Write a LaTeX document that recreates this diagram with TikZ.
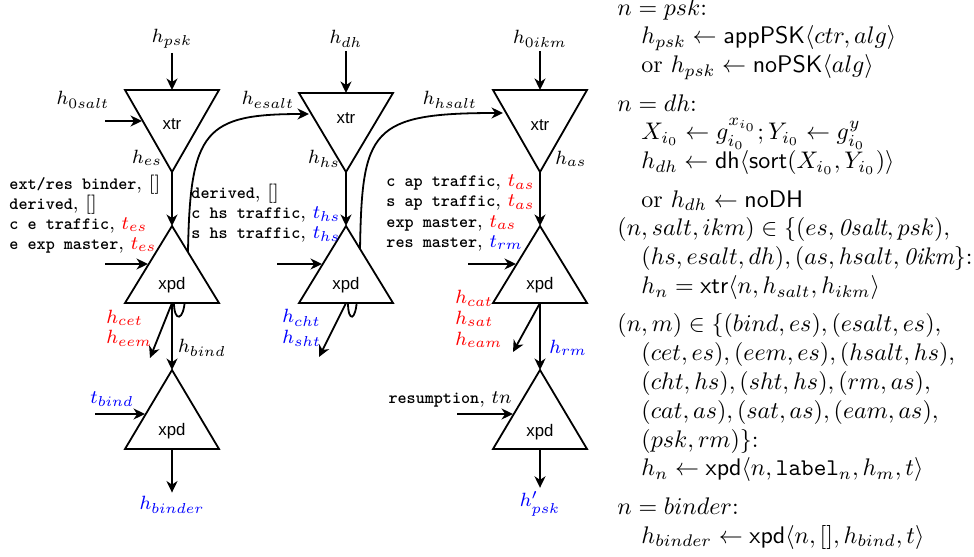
\documentclass[tikz,border=0pt]{standalone}
\usepackage{amsmath}
\usepackage{fontspec}
\usepackage{xcolor}
\usepackage{tikz}
\usetikzlibrary{arrows.meta}
\newfontfamily\gatefont{Liberation Sans}
\newcommand{\ttlbl}[1]{{\fontsize{7.2}{8.3}\selectfont\ttfamily\bfseries #1}}
\colorlet{KSred}{red}
\colorlet{KSblue}{blue}

\begin{document}
\begin{tikzpicture}[x=0.4167pt, y=-0.4167pt,
    flow/.style={-{Stealth[length=4.8pt,width=4.6pt,inset=1.5pt]}, line width=0.75pt},
    gate/.style={draw, line width=0.75pt, fill=white, line join=miter},
    gatelbl/.style={font=\gatefont\fontsize{7}{8}\selectfont, inner sep=0pt},
    lbl/.style={font=\footnotesize, inner sep=1.5pt},
    stack/.style={lbl, align=left, anchor=west, inner sep=0pt, font=\fontsize{8}{8.6}\selectfont},
    msgs/.style={align=left, anchor=west, inner sep=0pt, font=\fontsize{8}{8.4}\selectfont}]
  \useasboundingbox (0,0) rectangle (974,556);

  % salt chains first, the gates cover their inner part
  \coordinate (esLoop) at (174,303);
  \coordinate (esaltIn) at (309,114);
  \draw[flow] (esLoop) .. controls (174,322) and (184,322) .. (185,298) -- (188,252)
      .. controls (190,130) and (205,114) .. (esaltIn);
  \coordinate (hsLoop) at (348,303);
  \coordinate (hsaltIn) at (503,113);
  \draw[flow] (hsLoop) .. controls (348,322) and (356,322) .. (357,298) -- (360,250)
      .. controls (362,130) and (370,113) .. (hsaltIn);

  % early secret
  \draw[gate] (125,90) -- (219,90) -- (172,172) coordinate (esTip) -- cycle;
  \draw[gate] (172,226) coordinate (esXpd) -- (219,303) -- (125,303) -- cycle;
  \draw[gate] (172,370) coordinate (bindXpd) -- (219,449) -- (125,449) -- cycle;
  \node[gatelbl] (xtrES) at (172,124) {xtr};
  \node[gatelbl] (xpdES) at (172,285) {xpd};
  \node[gatelbl] (xpdBind) at (172,431) {xpd};
  \coordinate (esTop) at (172,90);
  \coordinate (esBase) at (172,303);
  \coordinate (bindBase) at (172,449);

  % handshake secret
  \draw[gate] (299,93) -- (393,93) -- (346,172) coordinate (hsTip) -- cycle;
  \draw[gate] (346,226) coordinate (hsXpd) -- (393,303) -- (299,303) -- cycle;
  \node[gatelbl] (xtrHS) at (346,118) {xtr};
  \node[gatelbl] (xpdHS) at (346,285) {xpd};
  \coordinate (hsTop) at (346,93);
  \coordinate (hsBase) at (346,303);

  % application secret
  \draw[gate] (493,90) -- (587,90) -- (540,172) coordinate (asTip) -- cycle;
  \draw[gate] (540,226) coordinate (asXpd) -- (587,303) -- (493,303) -- cycle;
  \draw[gate] (540,370) coordinate (rmXpd) -- (587,449) -- (493,449) -- cycle;
  \node[gatelbl] (xtrAS) at (540,125) {xtr};
  \node[gatelbl] (xpdAS) at (540,285) {xpd};
  \node[gatelbl] (xpdRM) at (540,432) {xpd};
  \coordinate (asTop) at (540,90);
  \coordinate (asBase) at (540,303);
  \coordinate (rmBase) at (540,449);

  % key inputs
  \node[lbl] (hpsk) at (172,39) {$h_{psk}$};
  \node[lbl] (hdh) at (346,39) {$h_{dh}$};
  \node[lbl] (h0ikm) at (540,39) {$h_{0ikm}$};
  \draw[flow] (hpsk) -- (esTop);
  \draw[flow] (hdh) -- (hsTop);
  \draw[flow] (h0ikm) -- (asTop);

  % salts
  \node[lbl] (h0salt) at (83,100) {$h_{0salt}$};
  \node[lbl] (hesalt) at (268,100) {$h_{esalt}$};
  \node[lbl] (hhsalt) at (450,100) {$h_{hsalt}$};
  \coordinate (salt0) at (105,121);
  \coordinate (esSalt) at (142,121);
  \draw[flow] (salt0) -- (esSalt);

  % extracted secrets
  \node[lbl] (hes) at (147,158) {$h_{es}$};
  \node[lbl] (hhs) at (324,159) {$h_{hs}$};
  \node[lbl] (has) at (571,159) {$h_{as}$};
  \draw[flow] (esTip) -- (esXpd);
  \draw[flow] (hsTip) -- (hsXpd);
  \draw[flow] (asTip) -- (asXpd);

  % labels and transcripts
  \node[msgs] (esMsgs) at (9,214) {\ttlbl{ext/res binder}, $[]$\\
    \ttlbl{derived}, $[]$\\
    \ttlbl{c e traffic}, \textcolor{KSred}{$t_{es}$}\\
    \ttlbl{e exp master}, \textcolor{KSred}{$t_{es}$}};
  \node[msgs] (hsMsgs) at (191,213) {\ttlbl{derived}, $[]$\\
    \ttlbl{c hs traffic}, \textcolor{KSblue}{$t_{hs}$}\\
    \ttlbl{s hs traffic}, \textcolor{KSblue}{$t_{hs}$}};
  \node[msgs] (asMsgs) at (386,213) {\ttlbl{c ap traffic}, \textcolor{KSred}{$t_{as}$}\\
    \ttlbl{s ap traffic}, \textcolor{KSred}{$t_{as}$}\\
    \ttlbl{exp master}, \textcolor{KSred}{$t_{as}$}\\
    \ttlbl{res master}, \textcolor{KSblue}{$t_{rm}$}};
  \coordinate (esMsgIn) at (105,264);
  \coordinate (hsMsgIn) at (277,264);
  \coordinate (asMsgIn) at (468,264);
  \draw[flow] (esMsgIn) -- (148,264);
  \draw[flow] (hsMsgIn) -- (322,264);
  \draw[flow] (asMsgIn) -- (516,264);

  % derived secrets
  \node[stack, text=KSred] (esDer) at (106,328) {$h_{cet}$\\$h_{eem}$};
  \node[stack, text=KSblue] (hsDer) at (282,328) {$h_{cht}$\\$h_{sht}$};
  \node[stack, text=KSred] (asDer) at (455,319) {$h_{cat}$\\$h_{sat}$\\$h_{eam}$};
  \coordinate (esDerEnd) at (150,358);
  \coordinate (hsDerEnd) at (319,357);
  \coordinate (asDerEnd) at (513,352);
  \draw[flow] (esBase) -- (esDerEnd);
  \draw[flow] (hsBase) -- (hsDerEnd);
  \draw[flow] (asBase) -- (asDerEnd);

  % binder and resumption
  \node[lbl] (hbind) at (202,348) {$h_{bind}$};
  \node[lbl, text=KSblue] (hrm) at (568,348) {$h_{rm}$};
  \draw[flow] (esBase) -- (bindXpd);
  \draw[flow] (asBase) -- (rmXpd);
  \node[lbl, text=KSblue] (tbind) at (112,399) {$t_{bind}$};
  \node[lbl] (resum) at (450,399) {\ttlbl{resumption}, $tn$};
  \coordinate (bindIn) at (95,414);
  \coordinate (resumIn) at (457,414);
  \draw[flow] (bindIn) -- (145,414);
  \draw[flow] (resumIn) -- (513,414);
  \node[lbl, text=KSblue] (hbinder) at (172,505) {$h_{binder}$};
  \node[lbl, text=KSblue] (hpskNext) at (540,504) {$h'_{psk}$};
  \draw[flow] (bindBase) -- (hbinder);
  \draw[flow] (rmBase) -- (hpskNext);

  % definitions
  \node[anchor=north west, inner sep=0pt, align=left] (rules) at (617,-2) {%
    $n = psk$:\\
    \hspace*{1em}$h_{psk} \leftarrow \mathsf{appPSK}\langle ctr, alg\rangle$\\
    \hspace*{1em}or $h_{psk} \leftarrow \mathsf{noPSK}\langle alg\rangle$\\[4pt]
    $n = dh$:\\
    \hspace*{1em}$X_{i_0} \leftarrow g_{i_0}^{x_{i_0}}; Y_{i_0} \leftarrow g_{i_0}^{y}$\\
    \hspace*{1em}$h_{dh} \leftarrow \mathsf{dh}\langle\mathsf{sort}(X_{i_0}, Y_{i_0})\rangle$\\[4pt]
    \hspace*{1em}or $h_{dh} \leftarrow \mathsf{noDH}$\\
    $(n, salt, ikm) \in \{(es, \mathit{0salt}, psk),$\\
    \hspace*{1em}$(hs, esalt, dh), (as, hsalt, \mathit{0ikm}\}$:\\
    \hspace*{1em}$h_n = \mathsf{xtr}\langle n, h_{salt}, h_{ikm}\rangle$\\[4pt]
    $(n, m) \in \{(bind, es), (esalt, es),$\\
    \hspace*{1em}$(cet, es), (eem, es), (hsalt, hs),$\\
    \hspace*{1em}$(cht, hs), (sht, hs), (rm, as),$\\
    \hspace*{1em}$(cat, as), (sat, as), (eam, as),$\\
    \hspace*{1em}$(psk, rm)\}$:\\
    \hspace*{1em}$h_n \leftarrow \mathsf{xpd}\langle n, \mathtt{label}_n, h_m, t\rangle$\\[4pt]
    $n = binder$:\\
    \hspace*{1em}$h_{binder} \leftarrow \mathsf{xpd}\langle n, [], h_{bind}, t\rangle$};
\end{tikzpicture}
\end{document}
